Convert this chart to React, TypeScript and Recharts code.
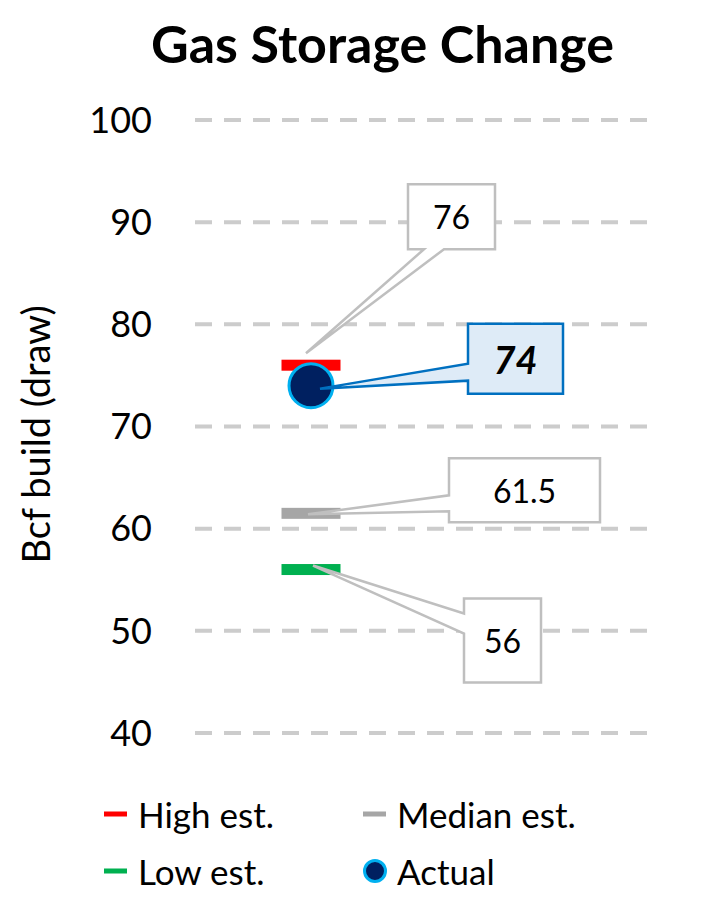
import { CartesianGrid, ComposedChart, Label, Legend, Scatter, XAxis, YAxis } from 'recharts'

const categories = ['Week']
const highEst = [76]
const medianEst = [61.5]
const lowEst = [56]
const actualValues = [74]
const yTicks = [40, 50, 60, 70, 80, 90, 100]

const legendItems = [
  { key: 'high', label: 'High est.' },
  { key: 'median', label: 'Median est.' },
  { key: 'low', label: 'Low est.' },
  { key: 'actual', label: 'Actual' },
]

const data = categories.map((cat, i) => ({
  cat,
  high: highEst[i],
  median: medianEst[i],
  low: lowEst[i],
  actual: actualValues[i],
}))

const FONT = 'Lato, "Open Sans", sans-serif'

const COLORS: Record<string, string> = {
  high: '#ff0000',
  median: '#a6a6a6',
  low: '#00b050',
  actual: '#002060',
}
const RING = '#00b0f0'

// callout box offsets relative to the mark: box [dx, dy, w, h], tail base along edge, tail tip offset
const CALLOUTS: Record<string, any> = {
  high: { box: [97, -181, 87, 65], side: 'bottom', base: [16, 36], tip: [-5, -12] },
  actual: { box: [157, -62, 95, 70], side: 'left', base: [40, 57], tip: [9, 3] },
  median: { box: [138, -55, 151, 64], side: 'left', base: [37, 53], tip: [-3, 1] },
  low: { box: [153, 29, 77, 84], side: 'left', base: [15, 35], tip: [2, -4] },
}

function calloutPath(x: number, y: number, w: number, h: number, side: string, a1: number, a2: number, tx: number, ty: number) {
  if (side === 'bottom') {
    return `M${x},${y}H${x + w}V${y + h}H${x + a2}L${tx},${ty}L${x + a1},${y + h}H${x}Z`
  }
  return `M${x},${y}H${x + w}V${y + h}H${x}V${y + a2}L${tx},${ty}L${x},${y + a1}Z`
}

function Callout({ cx, cy, kind, value }: { cx: number; cy: number; kind: string; value: number }) {
  const c = CALLOUTS[kind]
  const [dx, dy, w, h] = c.box
  const x = cx + dx
  const y = cy + dy
  const isActual = kind === 'actual'
  return (
    <g>
      <path
        d={calloutPath(x, y, w, h, c.side, c.base[0], c.base[1], cx + c.tip[0], cy + c.tip[1])}
        fill={isActual ? '#deebf7' : '#ffffff'}
        stroke={isActual ? '#0070c0' : '#bfbfbf'}
        strokeWidth={2.5}
        strokeLinejoin="miter"
      />
      <text
        x={x + w / 2}
        y={y + h / 2}
        textAnchor="middle"
        dominantBaseline="central"
        fontFamily={FONT}
        fontSize={isActual ? 38 : 32}
        fontWeight={isActual ? 700 : 400}
        fontStyle={isActual ? 'italic' : 'normal'}
        fill="#000"
      >
        {value}
      </text>
    </g>
  )
}

const makeDash = (kind: string) => (props: any) => {
  const { cx, cy, payload } = props
  return (
    <g>
      <rect x={cx - 29.5} y={cy - 5.5} width={59} height={11} fill={COLORS[kind]} />
      <Callout cx={cx} cy={cy} kind={kind} value={payload[kind]} />
    </g>
  )
}

const renderActual = (props: any) => {
  const { cx, cy, payload } = props
  return (
    <g>
      <circle cx={cx} cy={cy} r={22} fill={COLORS.actual} stroke={RING} strokeWidth={3} />
      <Callout cx={cx} cy={cy} kind="actual" value={payload.actual} />
    </g>
  )
}

function LegendMarker({ kind }: { kind: string }) {
  if (kind === 'actual') {
    return (
      <svg width={24} height={28}>
        <circle cx={12} cy={14} r={10.5} fill={COLORS.actual} stroke={RING} strokeWidth={3} />
      </svg>
    )
  }
  return (
    <svg width={24} height={28}>
      <rect x={0} y={11.5} width={23} height={5} fill={COLORS[kind]} />
    </svg>
  )
}

const renderLegend = () => (
  <div style={{ display: 'grid', gridTemplateColumns: '259px 300px', paddingLeft: 104 }}>
    {legendItems.map((item) => (
      <div key={item.key} style={{ display: 'flex', alignItems: 'center', height: 57, gap: 10 }}>
        <LegendMarker kind={item.key} />
        <span style={{ fontFamily: FONT, fontSize: 35, color: '#000' }}>{item.label}</span>
      </div>
    ))}
  </div>
)

const renderYLabel = (props: any) => {
  const vb = props.viewBox
  const cy = vb.y + vb.height / 2 + 8
  return (
    <text
      x={35}
      y={cy}
      transform={`rotate(-90 35 ${cy})`}
      textAnchor="middle"
      dominantBaseline="central"
      fontFamily={FONT}
      fontSize={38}
      fill="#000"
    >
      Bcf build (draw)
    </text>
  )
}

export default function App() {
  return (
    <div style={{ position: 'absolute', left: 0, top: 0, width: 705, height: 900, background: '#fff' }}>
      <div
        style={{
          position: 'absolute',
          left: 60,
          top: 17,
          width: 645,
          textAlign: 'center',
          fontFamily: FONT,
          fontWeight: 700,
          fontSize: 52,
          lineHeight: '52px',
          color: '#000',
        }}
      >
        Gas Storage Change
      </div>
      <ComposedChart width={705} height={900} data={data} margin={{ top: 120, right: 57, bottom: 167, left: 0 }}>
        <CartesianGrid vertical={false} stroke="#cccccc" strokeWidth={4} strokeDasharray="17 12" />
        <XAxis dataKey="cat" hide padding={{ left: 0, right: 221 }} />
        <YAxis
          type="number"
          domain={[40, 100]}
          ticks={yTicks}
          axisLine={false}
          tickLine={false}
          tickSize={0}
          tickMargin={43}
          width={195}
          tick={{ fontFamily: FONT, fontSize: 36, fill: '#000' }}
        >
          <Label content={renderYLabel} />
        </YAxis>
        <Legend
          layout="horizontal"
          verticalAlign="middle"
          align="center"
          wrapperStyle={{ top: 785, left: 0, width: 705 }}
          content={renderLegend}
        />
        <Scatter dataKey="high" name="High est." shape={makeDash('high')} isAnimationActive={false} />
        <Scatter dataKey="median" name="Median est." shape={makeDash('median')} isAnimationActive={false} />
        <Scatter dataKey="low" name="Low est." shape={makeDash('low')} isAnimationActive={false} />
        <Scatter dataKey="actual" name="Actual" shape={renderActual} isAnimationActive={false} />
      </ComposedChart>
    </div>
  )
}
